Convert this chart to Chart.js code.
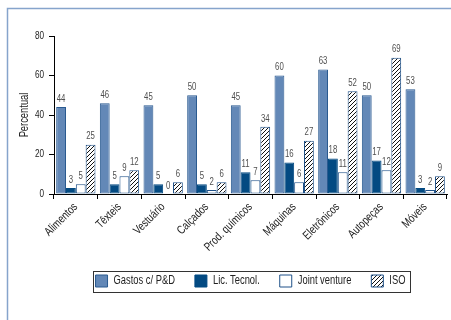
<!DOCTYPE html>
<html lang="pt">
<head>
<meta charset="utf-8">
<script src="https://cdn.jsdelivr.net/npm/chart.js@4.4.1/dist/chart.umd.min.js"></script>
<style>
  html, body { margin: 0; padding: 0; background: #fff; }
  #grafico { display: block; }
</style>
</head>
<body>
<canvas id="grafico" width="451" height="320"></canvas>
<script>
'use strict';

// Setores e percentuais de empresas por tipo de esforço tecnológico
const setores = ['Alimentos', 'Têxteis', 'Vestuário', 'Calçados', 'Prod. químicos',
                 'Máquinas', 'Eletrônicos', 'Autopeças', 'Móveis'];
const gastosPD     = [44, 46, 45, 50, 45, 60, 63, 50, 53];
const licTecnol    = [3, 5, 5, 5, 11, 16, 18, 17, 3];
const jointVenture = [5, 9, 0, 2, 7, 6, 11, 12, 2];
const iso          = [25, 12, 6, 6, 34, 27, 52, 69, 9];
const yTicks       = [0, 20, 40, 60, 80];

const FONTE = "'Liberation Sans', Arial, sans-serif";
const AZUL = '#6388b7';
const MARINHO = '#034a82';
const BORDA = '#1f5189';

// Texto condensado: todo texto do canvas é comprimido na horizontal
const CONDENSA = 0.78;
const canvas = document.getElementById('grafico');
const ctx2d = canvas.getContext('2d');
const fillOrig = ctx2d.fillText;
const measureOrig = ctx2d.measureText;
ctx2d.fillText = function (text, x, y) {
    this.save();
    this.translate(x, y);
    this.scale(CONDENSA, 1);
    fillOrig.call(this, text, 0, 0);
    this.restore();
};
ctx2d.measureText = function (text) {
    const m = measureOrig.call(this, text);
    return {
        width: m.width * CONDENSA,
        actualBoundingBoxAscent: m.actualBoundingBoxAscent,
        actualBoundingBoxDescent: m.actualBoundingBoxDescent,
        actualBoundingBoxLeft: m.actualBoundingBoxLeft * CONDENSA,
        actualBoundingBoxRight: m.actualBoundingBoxRight * CONDENSA
    };
};

// Hachura diagonal (////) usada na série ISO
const hachura = (() => {
    const c = document.createElement('canvas');
    c.width = 4; c.height = 4;
    const g = c.getContext('2d');
    g.fillStyle = '#fff';
    g.fillRect(0, 0, 4, 4);
    g.strokeStyle = '#111';
    g.lineWidth = 1;
    g.beginPath();
    g.moveTo(0, 4); g.lineTo(4, 0);
    g.moveTo(-1, 1); g.lineTo(1, -1);
    g.moveTo(3, 5); g.lineTo(5, 3);
    g.stroke();
    return g.createPattern(c, 'repeat');
})();

// Moldura azul (topo e lateral esquerda)
const moldura = {
    id: 'moldura',
    beforeDraw(chart) {
        const ctx = chart.ctx;
        ctx.save();
        ctx.strokeStyle = '#86a4cc';
        ctx.lineWidth = 1.5;
        ctx.beginPath();
        ctx.moveTo(7.5, chart.height);
        ctx.lineTo(7.5, 8.5);
        ctx.lineTo(chart.width, 8.5);
        ctx.stroke();
        ctx.restore();
    }
};

// Valores acima de cada barra
const rotulos = {
    id: 'rotulos',
    afterDatasetsDraw(chart) {
        const ctx = chart.ctx;
        ctx.save();
        ctx.font = '10px ' + FONTE;
        ctx.fillStyle = '#4f4f4f';
        ctx.textAlign = 'center';
        ctx.textBaseline = 'bottom';
        chart.data.datasets.forEach((ds, i) => {
            chart.getDatasetMeta(i).data.forEach((bar, j) => {
                ctx.fillText(String(ds.data[j]), bar.x, bar.y - 3);
            });
        });
        ctx.restore();
    }
};

// Caixa em volta da legenda
const caixaLegenda = {
    id: 'caixaLegenda',
    afterDraw(chart) {
        const boxes = chart.legend && chart.legend.legendHitBoxes;
        if (!boxes || !boxes.length) return;
        const x0 = Math.min(...boxes.map(b => b.left)) - 3;
        const x1 = Math.max(...boxes.map(b => b.left + b.width)) + 4;
        const y0 = Math.min(...boxes.map(b => b.top)) - 4;
        const y1 = Math.max(...boxes.map(b => b.top + b.height)) + 5;
        const ctx = chart.ctx;
        ctx.save();
        ctx.strokeStyle = '#333';
        ctx.lineWidth = 1;
        ctx.strokeRect(Math.round(x0) + 0.5, Math.round(y0) + 0.5, Math.round(x1 - x0), Math.round(y1 - y0));
        ctx.restore();
    }
};

const serie = (label, data, fill, border) => ({
    label, data,
    backgroundColor: fill,
    borderColor: border,
    borderWidth: 1,
    borderSkipped: false,
    categoryPercentage: 0.9,
    barPercentage: 1.0
});

new Chart(canvas, {
    type: 'bar',
    data: {
        labels: setores,
        datasets: [
            serie('Gastos c/ P&D', gastosPD, AZUL, '#2a5a90'),
            serie('Lic. Tecnol.', licTecnol, MARINHO, MARINHO),
            serie('Joint venture', jointVenture, '#ffffff', BORDA),
            serie('ISO', iso, hachura, BORDA)
        ]
    },
    options: {
        responsive: false,
        animation: false,
        layout: { padding: { left: 0, right: 4, top: 36, bottom: 23 } },
        plugins: {
            tooltip: { enabled: false },
            legend: {
                position: 'bottom',
                fullSize: false,
                labels: {
                    boxWidth: 12, boxHeight: 12, padding: 20,
                    color: '#222',
                    font: { family: FONTE, size: 12 }
                }
            }
        },
        scales: {
            x: {
                offset: true,
                border: { color: '#000', width: 1 },
                grid: { offset: true, drawOnChartArea: false, drawTicks: true, tickLength: 5, color: '#000' },
                ticks: {
                    color: '#222', font: { family: FONTE, size: 12 },
                    minRotation: 45, maxRotation: 45, autoSkip: false, padding: 1
                },
                afterFit: s => { s.height = 61; }
            },
            y: {
                min: 0, max: 80,
                border: { color: '#000', width: 1 },
                grid: { drawOnChartArea: false, drawTicks: true, tickLength: 5, color: '#000' },
                ticks: { color: '#222', font: { family: FONTE, size: 10.5 }, padding: 5 },
                afterBuildTicks: s => { s.ticks = yTicks.map(v => ({ value: v })); },
                title: {
                    display: true, text: 'Percentual', color: '#222',
                    font: { family: FONTE, size: 12 }, padding: { top: 17, bottom: 0 }
                },
                afterFit: s => { s.width = 54; }
            }
        }
    },
    plugins: [moldura, rotulos, caixaLegenda]
});
</script>
</body>
</html>
